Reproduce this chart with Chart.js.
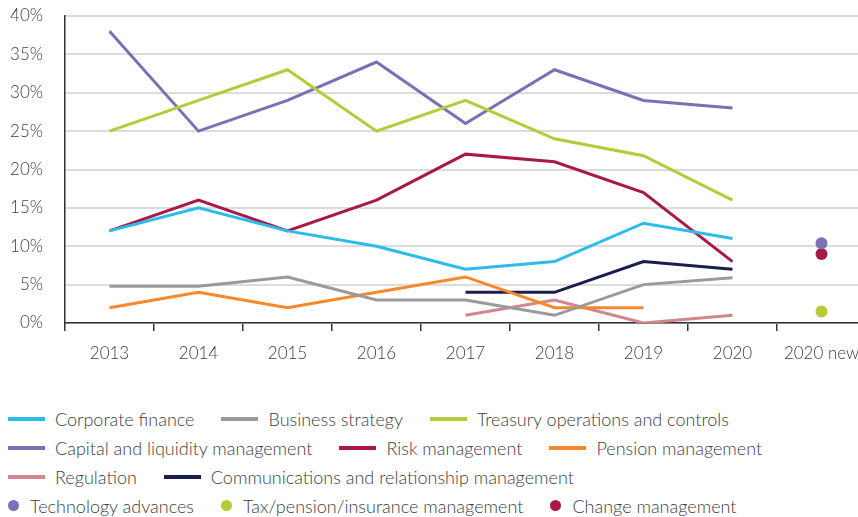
<!DOCTYPE html>
<html>
<head>
<meta charset="utf-8">
<script src="https://cdn.jsdelivr.net/npm/chart.js@4/dist/chart.umd.min.js"></script>
<style>
  html, body { margin: 0; padding: 0; background: #fff; overflow: hidden; width: 858px; height: 517px; }
  #wrap { position: relative; width: 880px; height: 517px; }
  #chart { position: absolute; left: 0; top: 0; }
  #legend { position: absolute; left: 8px; top: 404px; font-family: 'Lato', 'Liberation Sans', sans-serif; font-weight: 300; font-size: 18px; color: #404040; }
  .row { display: flex; align-items: center; height: 29px; white-space: nowrap; }
  .item { display: flex; align-items: center; margin-right: 27px; }
  .sw { width: 37px; height: 4px; margin-right: 10px; }
  .dot { width: 11px; height: 11px; border-radius: 50%; margin-right: 11px; }
</style>
</head>
<body>
<div id="wrap">
  <canvas id="chart" width="880" height="380"></canvas>
  <div id="legend"></div>
</div>
<script>
// Survey years
const years = ['2013', '2014', '2015', '2016', '2017', '2018', '2019', '2020', '2020 new'];

// Share of respondents per topic (%)
const corporateFinance   = [12, 15, 12, 10, 7, 8, 13, 11, null];
const businessStrategy   = [4.8, 4.8, 6, 3, 3, 1, 5, 5.9, null];
const treasuryOps        = [25, 29, 33, 25, 29, 24, 21.8, 16, null];
const capitalLiquidity   = [38, 25, 29, 34, 26, 33, 29, 28, null];
const riskManagement     = [12, 16, 12, 16, 22, 21, 17, 8, null];
const pensionManagement  = [2, 4, 2, 4, 6, 2, 2, null, null];
const regulation         = [null, null, null, null, 1, 3, 0, 1, null];
const communications     = [null, null, null, null, 4, 4, 8, 7, null];
const technologyAdvances = [null, null, null, null, null, null, null, null, 10.4];
const taxPensionInsurance= [null, null, null, null, null, null, null, null, 1.5];
const changeManagement   = [null, null, null, null, null, null, null, null, 9];

const yTicks = [0, 5, 10, 15, 20, 25, 30, 35, 40];

const FONT = 'Lato, "Liberation Sans", sans-serif';
const TEXT = '#404040';

function line(label, data, color) {
  return { label, data, borderColor: color, backgroundColor: color, borderWidth: 3,
           pointRadius: 0, pointHoverRadius: 0, tension: 0, fill: false, kind: 'line' };
}
function dot(label, data, color) {
  return { label, data, borderColor: color, backgroundColor: color, borderWidth: 0,
           pointRadius: 6, pointHoverRadius: 6, showLine: false, kind: 'dot' };
}

const datasets = [
  line('Corporate finance', corporateFinance, '#2bbcec'),
  line('Business strategy', businessStrategy, '#9a9a9a'),
  line('Treasury operations and controls', treasuryOps, '#b5cb3a'),
  line('Capital and liquidity management', capitalLiquidity, '#7b70b6'),
  line('Risk management', riskManagement, '#a8194a'),
  line('Pension management', pensionManagement, '#f6892c'),
  line('Regulation', regulation, '#d4868f'),
  line('Communications and relationship management', communications, '#181e4c'),
  dot('Technology advances', technologyAdvances, '#7b70b6'),
  dot('Tax/pension/insurance management', taxPensionInsurance, '#b5cb3a'),
  dot('Change management', changeManagement, '#a8194a')
];

function noPad(scale) {
  scale.paddingTop = 0; scale.paddingBottom = 0;
  scale.paddingLeft = 0; scale.paddingRight = 0;
}

new Chart(document.getElementById('chart'), {
  type: 'line',
  data: { labels: years, datasets },
  options: {
    responsive: false,
    animation: false,
    layout: { padding: { top: 16, right: 14, left: 0, bottom: 0 } },
    plugins: { legend: { display: false }, tooltip: { enabled: false } },
    scales: {
      x: {
        offset: true,
        grid: { drawOnChartArea: false, drawTicks: true, tickLength: 8, color: '#333', lineWidth: 1.5, offset: true },
        border: { color: '#333', width: 1.5 },
        ticks: { color: TEXT, font: { family: FONT, size: 17, weight: '300' }, padding: 12, maxRotation: 0, autoSkip: false },
        afterFit(scale) { scale.height = 57; noPad(scale); }
      },
      y: {
        min: 0, max: 40,
        afterBuildTicks(scale) { scale.ticks = yTicks.map(v => ({ value: v })); },
        grid: { color: '#dcdcdc', lineWidth: 2, drawTicks: false },
        border: { color: '#333', width: 1.5 },
        ticks: { color: TEXT, font: { family: FONT, size: 17, weight: '300' }, padding: 22,
                 callback: v => v + '%' },
        afterFit(scale) { scale.width = 65; noPad(scale); }
      }
    }
  }
});

// Legend rows, grouped by dataset index
const rows = [[0, 1, 2], [3, 4, 5], [6, 7], [8, 9, 10]];
const legend = document.getElementById('legend');
rows.forEach(r => {
  const row = document.createElement('div');
  row.className = 'row';
  r.forEach(i => {
    const ds = datasets[i];
    const item = document.createElement('div');
    item.className = 'item';
    const mark = document.createElement('span');
    mark.className = ds.kind === 'dot' ? 'dot' : 'sw';
    mark.style.background = ds.borderColor;
    const txt = document.createElement('span');
    txt.textContent = ds.label;
    item.appendChild(mark);
    item.appendChild(txt);
    row.appendChild(item);
  });
  legend.appendChild(row);
});
</script>
</body>
</html>
